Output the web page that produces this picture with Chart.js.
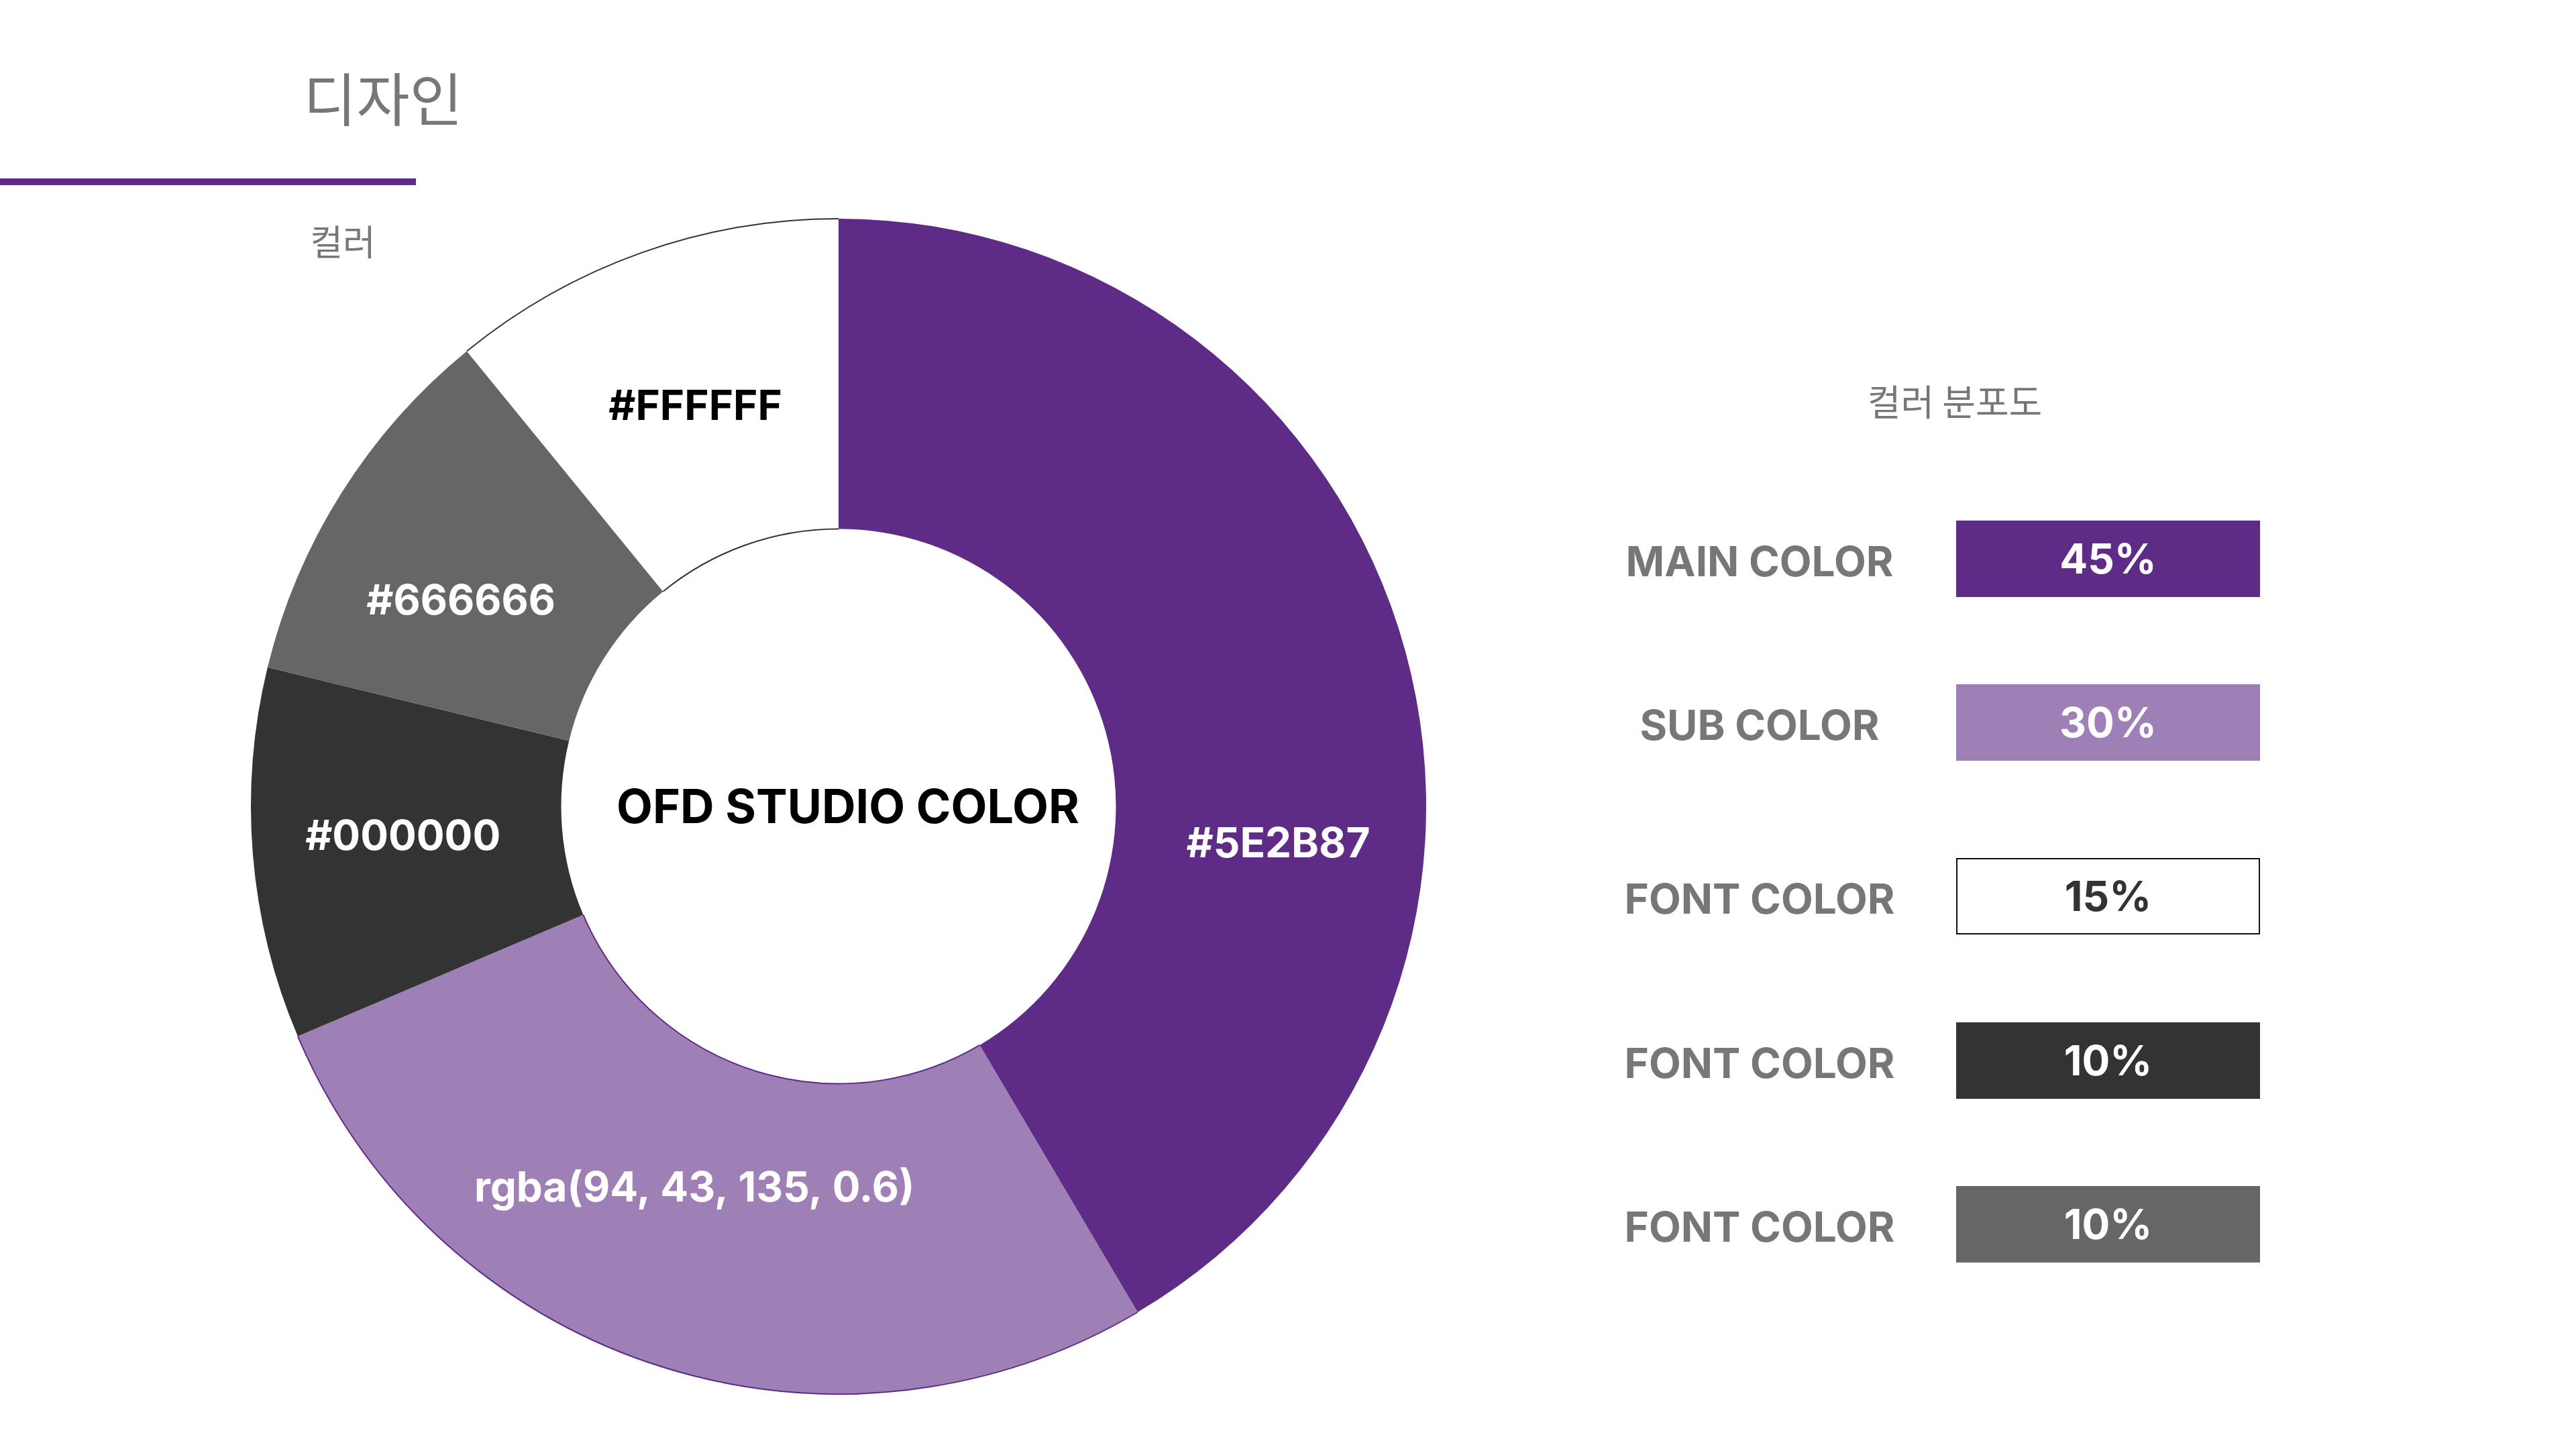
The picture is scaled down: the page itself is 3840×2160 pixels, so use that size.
<!DOCTYPE html>
<html>
<head>
<meta charset="utf-8">
<script src="https://cdn.jsdelivr.net/npm/chart.js@4/dist/chart.umd.min.js"></script>
<style>
  html, body { margin: 0; padding: 0; background: #ffffff; }
  #page { position: relative; width: 3840px; height: 2160px; overflow: hidden; background: #ffffff;
          font-family: Inter, "Noto Sans CJK KR", sans-serif; }
  .kr { position: absolute; font-family: "Noto Sans CJK KR", sans-serif; color: #777777; white-space: nowrap;
        transform: translate(-50%, -50%); line-height: 1; }
  #title { left: 571px; top: 144px; font-size: 86px; font-weight: 400; }
  #rule { position: absolute; left: 0; top: 266px; width: 620px; height: 10px; background: #5E2B87; }
  #sub { left: 511px; top: 358px; font-size: 53px; font-weight: 400; }
  #legendTitle { left: 2914px; top: 597px; font-size: 54px; font-weight: 400; }
  #chartCanvas { position: absolute; left: 350px; top: 302px; }
  .lname { position: absolute; transform: translate(-50%, -50%); font-family: Inter, sans-serif; font-weight: 700;
           font-size: 62px; color: #777777; white-space: nowrap; line-height: 1; }
  .lbox { position: absolute; box-sizing: border-box; display: flex; align-items: center; justify-content: center;
          font-family: Inter, sans-serif; font-weight: 700; font-size: 62px; line-height: 1; }
</style>
</head>
<body>
<div id="page">
  <div id="title" class="kr">디자인</div>
  <div id="rule"></div>
  <div id="sub" class="kr">컬러</div>
  <div id="legendTitle" class="kr">컬러 분포도</div>
  <canvas id="chartCanvas" width="1800" height="1800"></canvas>
  <div id="legend"></div>
</div>
<script>
// ---- data ----
const sliceLabels = ['#5E2B87', 'rgba(94, 43, 135, 0.6)', '#000000', '#666666', '#FFFFFF'];
const sliceValues = [41.5, 27.1, 10.2, 10.3, 10.9];
const centerTitle = 'OFD STUDIO COLOR';
const legendNames = ['MAIN COLOR', 'SUB COLOR', 'FONT COLOR', 'FONT COLOR', 'FONT COLOR'];
const legendShares = [45, 30, 15, 10, 10];

// ---- styles / layout ----
const sliceColors = ['#5E2B87', 'rgba(94, 43, 135, 0.6)', '#333333', '#666666', '#FFFFFF'];
const sliceTextColors = ['#FFFFFF', '#FFFFFF', '#FFFFFF', '#FFFFFF', '#000000'];
const sliceOutline = [null, '#5E2B87', null, null, '#333333'];
const labelNudge = [[20, 13], [2.6, -39], [0.9, 6], [-3.5, -3], [0, -9]]; // [deg, px]
const legendBoxColors = ['#5E2B87', 'rgba(94, 43, 135, 0.6)', '#FFFFFF', '#333333', '#666666'];
const legendTextColors = ['#FFFFFF', '#FFFFFF', '#333333', '#FFFFFF', '#FFFFFF'];
const legendBorders = ['none', 'none', '2px solid #111111', 'none', 'none'];
const legendRowCenters = [833, 1077, 1336, 1581, 1825];

const sliceLabelPlugin = {
  id: 'sliceLabels',
  afterDatasetsDraw(chart) {
    const ctx = chart.ctx;
    const meta = chart.getDatasetMeta(0);
    ctx.save();
    meta.data.forEach((arc, i) => {
      const oc = sliceOutline[i];
      if (!oc) return;
      const p = arc.getProps(['x', 'y', 'startAngle', 'endAngle', 'innerRadius', 'outerRadius'], true);
      ctx.strokeStyle = oc;
      ctx.lineWidth = 2;
      ctx.beginPath();
      ctx.arc(p.x, p.y, p.outerRadius, p.startAngle, p.endAngle);
      ctx.stroke();
      ctx.beginPath();
      ctx.arc(p.x, p.y, p.innerRadius, p.startAngle, p.endAngle);
      ctx.stroke();
    });
    const fs = 62;
    ctx.font = '700 ' + fs + 'px Inter, sans-serif';
    ctx.textAlign = 'center';
    ctx.textBaseline = 'alphabetic';
    let cx = 0, cy = 0;
    meta.data.forEach((arc, i) => {
      const p = arc.getProps(['x', 'y', 'startAngle', 'endAngle', 'innerRadius', 'outerRadius'], true);
      cx = p.x; cy = p.y;
      const mid = (p.startAngle + p.endAngle) / 2 + labelNudge[i][0] * Math.PI / 180;
      const r = (p.innerRadius + p.outerRadius) / 2 + labelNudge[i][1];
      ctx.fillStyle = sliceTextColors[i];
      ctx.fillText(sliceLabels[i], p.x + r * Math.cos(mid), p.y + r * Math.sin(mid) + fs * 0.364);
    });
    const cfs = 70;
    ctx.font = '700 ' + cfs + 'px Inter, sans-serif';
    ctx.fillStyle = '#000000';
    ctx.fillText(centerTitle, cx + 14, cy + cfs * 0.364);
    ctx.restore();
  }
};

new Chart(document.getElementById('chartCanvas'), {
  type: 'doughnut',
  data: {
    labels: sliceLabels,
    datasets: [{
      data: sliceValues,
      backgroundColor: sliceColors,
      borderWidth: 0,
      hoverOffset: 0
    }]
  },
  options: {
    responsive: false,
    devicePixelRatio: 1,
    animation: false,
    events: [],
    radius: 876,
    cutout: '47.2%',
    layout: { padding: 0 },
    plugins: { legend: { display: false }, tooltip: { enabled: false } }
  },
  plugins: [sliceLabelPlugin]
});

// ---- legend ----
const legend = document.getElementById('legend');
legendNames.forEach((name, i) => {
  const cy = legendRowCenters[i];
  const n = document.createElement('div');
  n.className = 'lname';
  n.textContent = name;
  n.style.left = '2623px';
  n.style.top = (cy + 4) + 'px';
  legend.appendChild(n);
  const b = document.createElement('div');
  b.className = 'lbox';
  b.style.left = '2916px';
  b.style.top = (cy - 57) + 'px';
  b.style.width = '453px';
  b.style.height = '114px';
  b.style.background = legendBoxColors[i];
  b.style.border = legendBorders[i];
  b.style.color = legendTextColors[i];
  b.textContent = legendShares[i] + '%';
  legend.appendChild(b);
});
</script>
</body>
</html>
